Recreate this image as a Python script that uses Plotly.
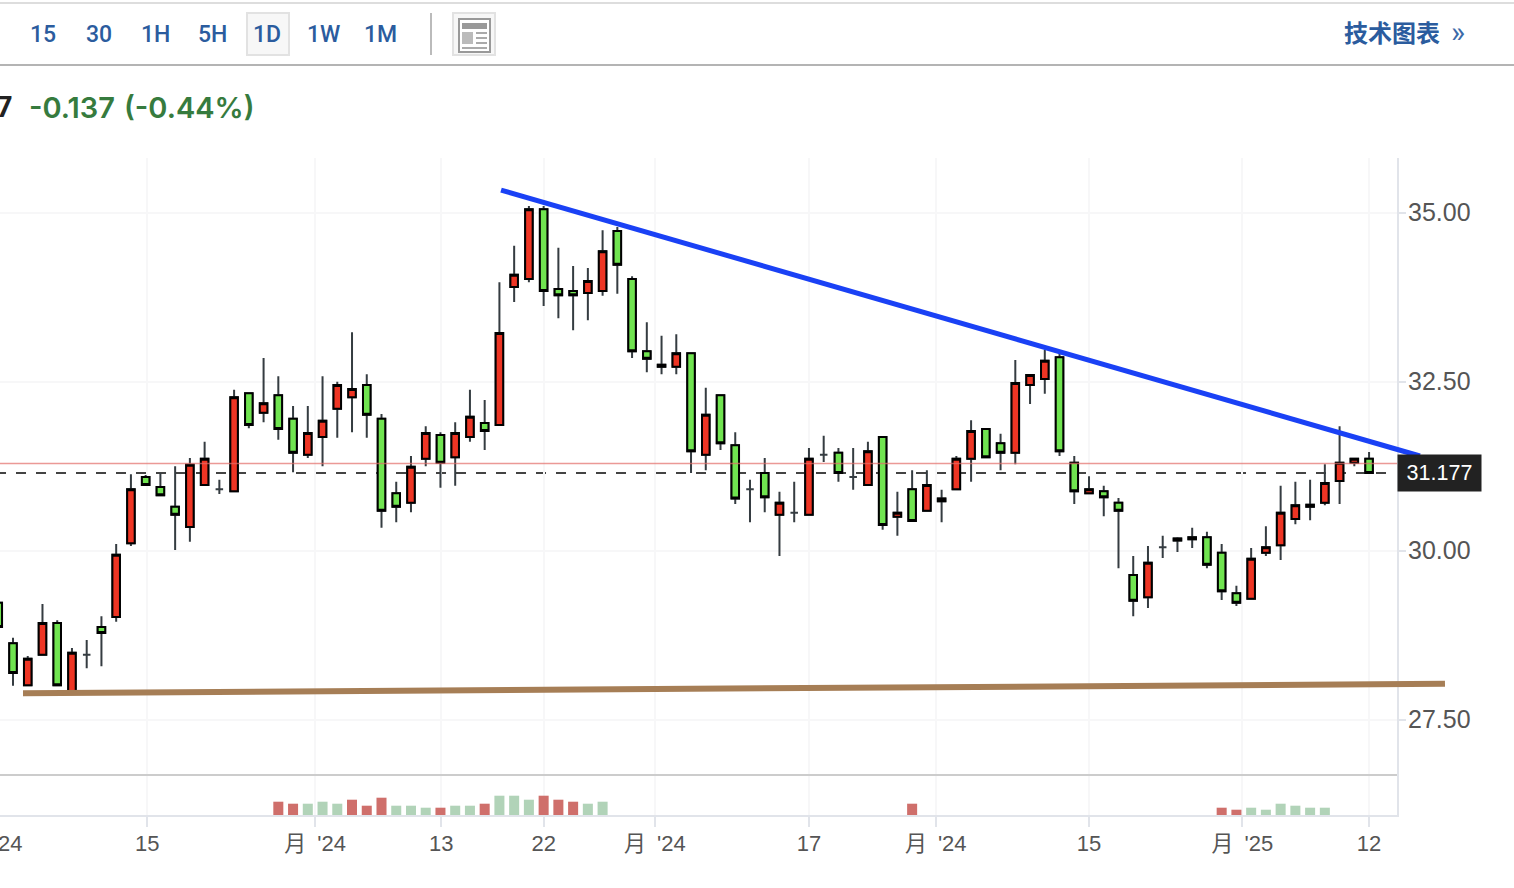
import plotly.graph_objects as go

W, H = 1514, 888

opens = [29.23,28.63,28.01,28.46,28.93,27.92,28.46,28.87,29.02,30.11,31.09,30.94,30.65,30.35,30.97,30.91,
         30.88,32.33,32.04,32.30,31.95,31.42,31.68,32.10,32.27,32.45,31.95,30.85,30.71,31.36,31.71,31.38,
         31.68,31.89,31.86,33.90,34.02,35.05,33.87,33.84,33.81,33.84,34.73,34.02,32.95,32.75,32.72,32.92,
         31.42,32.30,31.56,30.91,31.15,30.53,30.56,30.53,31.42,31.45,31.09,30.97,31.68,30.50,30.91,30.59,
         30.77,30.91,31.36,31.80,31.59,31.45,32.45,32.54,32.86,31.30,30.85,30.88,30.71,29.64,29.31,30.05,
         30.18,30.20,30.20,29.97,29.37,29.29,29.97,30.08,30.47,30.68,30.71,31.03,31.30,31.36]
highs = [29.23,28.71,28.44,29.21,28.97,28.56,28.68,29.03,30.10,31.13,31.12,31.15,31.25,31.37,31.61,31.05,
         32.38,32.33,32.85,32.58,32.14,32.14,32.58,32.50,33.23,32.61,32.02,31.02,31.40,31.84,31.75,31.90,
         32.38,32.23,33.97,34.51,35.10,35.10,34.48,34.21,34.18,34.74,34.79,34.06,33.38,33.18,33.20,32.92,
         32.41,32.30,31.75,31.05,31.37,30.87,31.02,31.52,31.70,31.52,31.52,31.61,31.68,30.87,31.19,31.19,
         30.90,31.40,31.93,31.80,31.73,32.82,32.60,32.97,32.97,31.40,31.10,30.96,30.78,29.92,30.07,30.22,
         30.20,30.34,30.28,30.10,29.48,30.04,30.36,30.96,31.02,31.05,31.28,31.84,31.36,31.46]
lows = [28.87,28.00,28.01,28.46,28.01,27.92,28.26,28.29,28.95,30.07,30.97,30.82,30.01,30.13,30.97,30.84,
        30.88,31.81,31.90,31.64,31.16,31.37,31.25,31.67,31.75,31.67,30.34,30.42,30.57,31.25,30.93,30.96,
        31.61,31.49,31.86,33.68,33.97,33.62,33.44,33.26,33.41,33.77,33.80,32.85,32.64,32.61,32.61,31.15,
        31.19,31.49,30.69,30.42,30.57,29.92,30.42,30.53,31.31,31.02,30.90,30.97,30.31,30.22,30.44,30.59,
        30.42,30.91,31.02,31.38,31.19,31.28,32.17,32.32,31.40,30.69,30.85,30.51,29.74,29.03,29.15,29.89,
        29.98,30.04,29.74,29.27,29.18,29.29,29.92,29.86,30.39,30.45,30.67,30.69,31.25,31.15]
closes = [28.87,28.19,28.40,28.93,28.01,28.49,28.46,28.78,29.94,30.91,30.97,30.82,30.53,31.27,31.36,30.91,
          32.27,31.86,32.18,31.80,31.45,31.74,31.92,32.45,32.39,32.01,30.59,30.65,31.24,31.74,31.30,31.74,
          31.98,31.77,33.22,34.08,35.05,33.84,33.78,33.78,33.99,34.43,34.23,32.95,32.84,32.72,32.92,31.47,
          32.01,31.59,30.77,30.91,30.79,30.71,30.56,31.36,31.42,31.15,31.09,31.47,30.38,30.56,30.44,30.97,
          30.73,31.36,31.77,31.38,31.45,32.48,32.60,32.81,31.47,30.88,30.91,30.79,30.59,29.26,29.82,30.05,
          30.15,30.17,29.79,29.40,29.23,29.88,30.05,30.56,30.67,30.65,31.00,31.30,31.36,31.15]
candle_index = list(range(len(opens)))

volume_index = list(range(19, 42)) + [62] + list(range(83, 91))
volumes = [7,6,6,7,6,8,5,9,5,5,4,4,5,5,6,10,10,8,10,8,7,6,7, 6, 4,3,4,3,6,5,4,4]
volume_side = list("rrgggrrrgggrggrgggrrrgg") + ["r"] + list("rrgggggg")

x_tick_positions = [10.1, 21.5, 30.05, 37.0, 44.55, 55.0, 63.6, 74.0, 84.4, 93.0]
x_tick_labels = ["15", "月\u2002'24", "13", "22", "月\u2002'24", "17", "月\u2002'24", "15", "月\u2002'25", "12"]
y_tick_values = [27.5, 30.0, 32.5, 35.0]
y_tick_labels = ["27.50", "30.00", "32.50", "35.00"]

last_price_label = "31.177"
dashed_level = 31.15
red_level = 31.29
resistance_x = [34.11, 96.45]
resistance_y = [35.335, 31.40]
support_x = [1.68, 98.15]
support_y = [27.89, 28.03]

period_labels = ["15", "30", "1H", "5H", "1D", "1W", "1M"]
period_centers = [43, 99, 155, 212, 267, 323, 380]

RED, GREEN = "#ee3524", "#70e450"
FONT = "Liberation Sans, Noto Sans CJK SC, sans-serif"
UI = "Roboto, Noto Sans CJK SC, sans-serif"
px = lambda x: x / W
py = lambda y: 1 - y / H

X_RANGE = [0.118, 94.895]
Y_RANGE = [26.681, 35.809]
X_DOMAIN = [0, 1397 / W]
Y_DOMAIN = [py(775), py(158)]


def paper_x(i):
    return X_DOMAIN[0] + (i - X_RANGE[0]) / (X_RANGE[1] - X_RANGE[0]) * (X_DOMAIN[1] - X_DOMAIN[0])


def paper_y(v):
    return Y_DOMAIN[0] + (v - Y_RANGE[0]) / (Y_RANGE[1] - Y_RANGE[0]) * (Y_DOMAIN[1] - Y_DOMAIN[0])


body_open = [o if o != c else None for o, c in zip(opens, closes)]
body_close = [c if o != c else None for o, c in zip(opens, closes)]
body_high = [max(o, c) if o != c else None for o, c in zip(opens, closes)]
body_low = [min(o, c) if o != c else None for o, c in zip(opens, closes)]

fig = go.Figure()
fig.add_trace(go.Bar(
    x=volume_index, y=volumes, xaxis="x", yaxis="y2", width=0.68,
    marker=dict(color=["#cf6f6b" if s == "r" else "#b1d3b8" for s in volume_side], line_width=0),
))
fig.add_trace(go.Candlestick(
    x=candle_index, open=opens, high=highs, low=lows, close=closes, xaxis="x", yaxis="y",
    increasing=dict(line=dict(color="#353c41", width=2), fillcolor=RED),
    decreasing=dict(line=dict(color="#353c41", width=2), fillcolor=GREEN),
))
fig.add_trace(go.Candlestick(
    x=candle_index, open=body_open, high=body_high, low=body_low, close=body_close, xaxis="x", yaxis="y",
    increasing=dict(line=dict(color="#000000", width=2), fillcolor=RED),
    decreasing=dict(line=dict(color="#000000", width=2), fillcolor=GREEN),
))
fig.add_trace(go.Scatter(
    x=X_RANGE, y=[red_level, red_level], mode="lines", xaxis="x", yaxis="y",
    line=dict(color="rgba(226,110,105,0.7)", width=1.5),
))

shapes = [
    dict(type="line", xref="x", yref="y", x0=-0.153, x1=94.15, y0=dashed_level, y1=dashed_level,
         layer="below", line=dict(color="#444444", width=2, dash="10px,10px")),
    dict(type="line", xref="paper", yref="paper",
         x0=paper_x(support_x[0]), x1=paper_x(support_x[1]), y0=paper_y(support_y[0]), y1=paper_y(support_y[1]),
         line=dict(color="#a67e56", width=6)),
    dict(type="line", xref="paper", yref="paper",
         x0=paper_x(resistance_x[0]), x1=paper_x(resistance_x[1]),
         y0=paper_y(resistance_y[0]), y1=paper_y(resistance_y[1]),
         line=dict(color="#1a41f5", width=5)),
]


def rect(x0, y0, x1, y1, fill=None, line=None, lw=0):
    return dict(type="rect", xref="paper", yref="paper", x0=px(x0), x1=px(x1), y0=py(y0), y1=py(y1),
                fillcolor=fill or "rgba(0,0,0,0)", line=dict(color=line or "rgba(0,0,0,0)", width=lw))


def hline(x0, x1, y, color, lw):
    return dict(type="line", xref="paper", yref="paper", x0=px(x0), x1=px(x1), y0=py(y), y1=py(y),
                line=dict(color=color, width=lw))


shapes += [
    hline(0, W, 3, "#dddddd", 2),
    hline(0, W, 65, "#b4b4b4", 2),
    hline(0, 1397, 775, "#cccccc", 2),
    rect(247, 13, 289, 55, "#f7f7f7", "#e2e2e2", 2),
    dict(type="line", xref="paper", yref="paper", x0=px(431), x1=px(431), y0=py(13), y1=py(55),
         line=dict(color="#bbbbbb", width=2)),
    rect(453, 13, 495, 55, "#f7f7f7", "#e2e2e2", 2),
    rect(459, 19, 490, 52, "#ffffff", "#999999", 2),
    rect(462, 23, 487, 29, "#999999"),
    rect(462, 32, 473, 44, "#bbbbbb"),
    hline(476, 487, 33, "#aaaaaa", 2),
    hline(476, 487, 38, "#aaaaaa", 2),
    hline(476, 487, 43, "#aaaaaa", 2),
    hline(462, 487, 48, "#aaaaaa", 2),
]


def label(text, x, y, xanchor="center", **font):
    return dict(text=text, x=px(x), y=py(y), xref="paper", yref="paper", showarrow=False,
                xanchor=xanchor, yanchor="middle", font=font)


annotations = [label(t, c, 35, family=UI, size=23, color="#2b5c9e", weight=500)
               for t, c in zip(period_labels, period_centers)]
annotations += [
    label("技术图表", 1392, 34, family=UI, size=24, color="#2b5c9e", weight=700),
    label("»", 1458, 32, family=UI, size=30, color="#3c6aa8"),
    label("7", 15, 107, "right", family=UI, size=29, color="#222222", weight=700),
    label("-0.137", 27, 107, "left", family="Inter, Roboto, sans-serif", size=29, color="#367b3e", weight=600),
    label("(-0.44%)", 122, 107, "left", family="Inter, Roboto, sans-serif", size=29, color="#367b3e", weight=600),
    label("24", 10, 843, family=FONT, size=22, color="#555555"),
    dict(text=last_price_label, x=px(1397), y=py(473), xref="paper", yref="paper", showarrow=False,
         xanchor="left", yanchor="middle", width=83, height=36, align="center", valign="middle", borderpad=0,
         bgcolor="#222222", font=dict(family=FONT, size=21.5, color="#ffffff")),
]

fig.update_layout(
    width=W, height=H, autosize=False, margin=dict(l=0, r=0, t=0, b=0),
    paper_bgcolor="#ffffff", plot_bgcolor="#ffffff", showlegend=False, hovermode=False,
    boxgap=0.27, bargap=0.3, shapes=shapes, annotations=annotations,
    font=dict(family=FONT, color="#555555"),
    xaxis=dict(
        domain=X_DOMAIN, range=X_RANGE, anchor="y2", rangeslider=dict(visible=False),
        tickmode="array", tickvals=x_tick_positions, ticktext=x_tick_labels,
        showgrid=True, gridcolor="#f7f7f8", gridwidth=2, zeroline=False,
        ticks="outside", ticklen=10, tickwidth=2, tickcolor="#e1e4ea", ticklabelstandoff=-2,
        showline=True, linecolor="#e1e4ea", linewidth=2,
        tickfont=dict(family=FONT, size=22, color="#555555"),
    ),
    yaxis=dict(
        domain=Y_DOMAIN, range=Y_RANGE, side="right", anchor="x",
        tickmode="array", tickvals=y_tick_values, ticktext=y_tick_labels,
        showgrid=True, gridcolor="#f7f7f8", gridwidth=2, zeroline=False,
        ticks="outside", ticklen=7, tickwidth=2, tickcolor="#e1e4ea", ticklabelstandoff=-3,
        showline=True, linecolor="#e1e4ea", linewidth=2,
        tickfont=dict(family=FONT, size=25, color="#555555"),
    ),
    yaxis2=dict(
        domain=[py(815), py(775)], range=[0.35, 20.35], side="right", anchor="x",
        showticklabels=False, ticks="", showgrid=False, zeroline=False,
        showline=True, linecolor="#e1e4ea", linewidth=2,
    ),
)

fig.write_html("out.html", config={"displayModeBar": False},
               post_script="document.body.style.margin='0';document.documentElement.style.overflow='hidden';")
